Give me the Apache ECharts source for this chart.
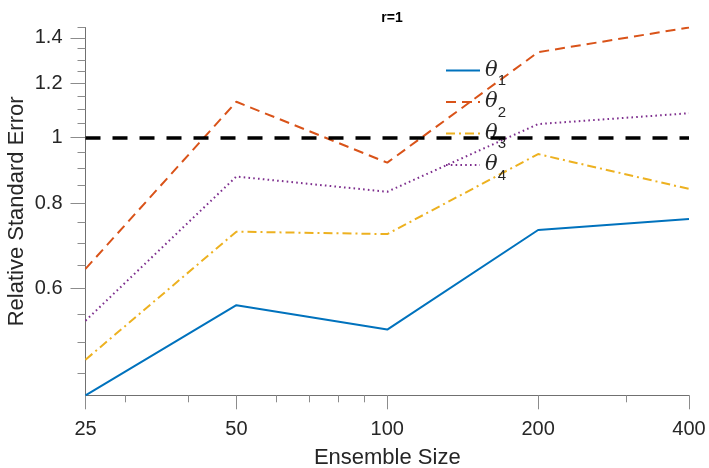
<!DOCTYPE html>
<html>
<head>
<meta charset="utf-8">
<script src="https://cdn.jsdelivr.net/npm/echarts@6/dist/echarts.min.js"></script>
<style>html,body{margin:0;padding:0;background:#fff}#c{width:709px;height:468px}</style>
</head>
<body>
<div id="c"></div>
<script>
const ensembleSizes = [25, 50, 100, 200, 400];
const theta1 = [0.418, 0.567, 0.522, 0.731, 0.759];
const theta2 = [0.641, 1.128, 0.918, 1.334, 1.45];
const theta3 = [0.4715, 0.727, 0.721, 0.945, 0.840];
const theta4 = [0.538, 0.876, 0.832, 1.046, 1.085];
const referenceLevel = 1;
const xMajorTicks = [25, 50, 100, 200, 400];
const xMinorTicks = [30, 40, 60, 70, 80, 90, 300];
const yMajorTicks = [0.6, 0.8, 1, 1.2, 1.4];
const yMinorTicks = [0.45, 0.5, 0.55, 0.65, 0.7, 0.75, 0.85, 0.9, 0.95, 1.05, 1.1, 1.15, 1.25, 1.3, 1.35, 1.45];
const seriesNames = ['θ1', 'θ2', 'θ3', 'θ4'];

const allVals = theta1.concat(theta2, theta3, theta4);
const yMin = Math.min.apply(null, allVals);
const yMax = Math.max.apply(null, allVals);
const xMin = ensembleSizes[0], xMax = ensembleSizes[ensembleSizes.length - 1];

const FONT = '"Liberation Sans", Arial, Helvetica, sans-serif';
const TXT = '#262626';
const colors = ['#0072BD', '#D95319', '#EDB120', '#7E2F8E'];
const dashes = ['solid', [10, 6], [9, 4, 2, 4], [1.6, 3.2]];
const vals = [theta1, theta2, theta3, theta4];

const chart = echarts.init(document.getElementById('c'), null, {renderer: 'canvas'});

const series = vals.map((v, i) => ({
  name: seriesNames[i],
  type: 'line',
  xAxisIndex: 0, yAxisIndex: 0,
  data: ensembleSizes.map((x, j) => [x, v[j]]),
  symbol: 'none',
  lineStyle: {color: colors[i], width: 2, type: dashes[i]},
  itemStyle: {color: colors[i]},
  z: 3,
  animation: false
}));
series.push({
  name: 'ref',
  type: 'line',
  data: [],
  markLine: {
    silent: true,
    symbol: 'none',
    label: {show: false},
    lineStyle: {color: '#000', width: 3.5, type: [15, 12]},
    data: [{yAxis: referenceLevel}]
  },
  animation: false
});

const majorX = {
  type: 'log', logBase: 2, min: xMin, max: xMax, gridIndex: 0,
  position: 'bottom',
  name: 'Ensemble Size', nameLocation: 'middle', nameGap: 52,
  nameTextStyle: {fontSize: 22, color: TXT, fontFamily: FONT},
  axisLine: {show: true, lineStyle: {color: '#707070', width: 1}},
  axisTick: {show: true, inside: false, length: 14, lineStyle: {color: '#8c8c8c', width: 1}, customValues: xMajorTicks},
  axisLabel: {show: true, fontSize: 20, color: TXT, fontFamily: FONT, margin: 24, customValues: xMajorTicks},
  splitLine: {show: false},
  minorTick: {show: false}
};
const minorX = {
  type: 'log', logBase: 2, min: xMin, max: xMax, gridIndex: 0,
  position: 'bottom',
  axisLine: {show: false},
  axisTick: {show: true, inside: false, length: 7, lineStyle: {color: '#8c8c8c', width: 1}, customValues: xMinorTicks},
  axisLabel: {show: false},
  splitLine: {show: false}
};
const majorY = {
  type: 'log', logBase: 10, min: yMin, max: yMax, gridIndex: 0,
  position: 'left',
  name: 'Relative Standard Error', nameLocation: 'middle', nameGap: 58,
  nameMoveOverlap: false,
  nameTextStyle: {fontSize: 22, color: TXT, fontFamily: FONT},
  axisLine: {show: true, lineStyle: {color: '#707070', width: 1}},
  axisTick: {show: true, inside: false, length: 15, lineStyle: {color: '#8c8c8c', width: 1}, customValues: yMajorTicks},
  axisLabel: {show: true, fontSize: 20, color: TXT, fontFamily: FONT, margin: 23, customValues: yMajorTicks},
  splitLine: {show: false}
};
const minorY = {
  type: 'log', logBase: 10, min: yMin, max: yMax, gridIndex: 0,
  position: 'left',
  axisLine: {show: false},
  axisTick: {show: true, inside: false, length: 8, lineStyle: {color: '#8c8c8c', width: 1}, customValues: yMinorTicks},
  axisLabel: {show: false},
  splitLine: {show: false}
};

chart.setOption({
  animation: false,
  backgroundColor: '#fff',
  title: {
    text: 'r=1', left: 387, top: 6, textAlign: 'center',
    textStyle: {fontSize: 14, fontWeight: 'bold', color: '#000', fontFamily: FONT}
  },
  grid: {left: 85.5, right: 20, top: 27.5, bottom: 72.7, containLabel: false, outerBoundsMode: 'none'},
  legend: {
    data: seriesNames,
    orient: 'vertical',
    left: 445, top: 60,
    padding: 0,
    itemWidth: 34, itemHeight: 14, itemGap: 3,
    itemStyle: {opacity: 0},
    formatter: function (name) {
      return '{a|θ}{b|' + name.slice(1) + '}';
    },
    textStyle: {
      color: TXT,
      rich: {
        a: {fontSize: 21, fontStyle: 'italic', fontFamily: '"DejaVu Serif", "Liberation Serif", serif', color: TXT, verticalAlign: 'middle', lineHeight: 26},
        b: {fontSize: 15, fontFamily: FONT, color: TXT, verticalAlign: 'bottom', lineHeight: 36}
      }
    }
  },
  xAxis: [majorX, minorX],
  yAxis: [majorY, minorY],
  series: series
});
</script>
</body>
</html>
